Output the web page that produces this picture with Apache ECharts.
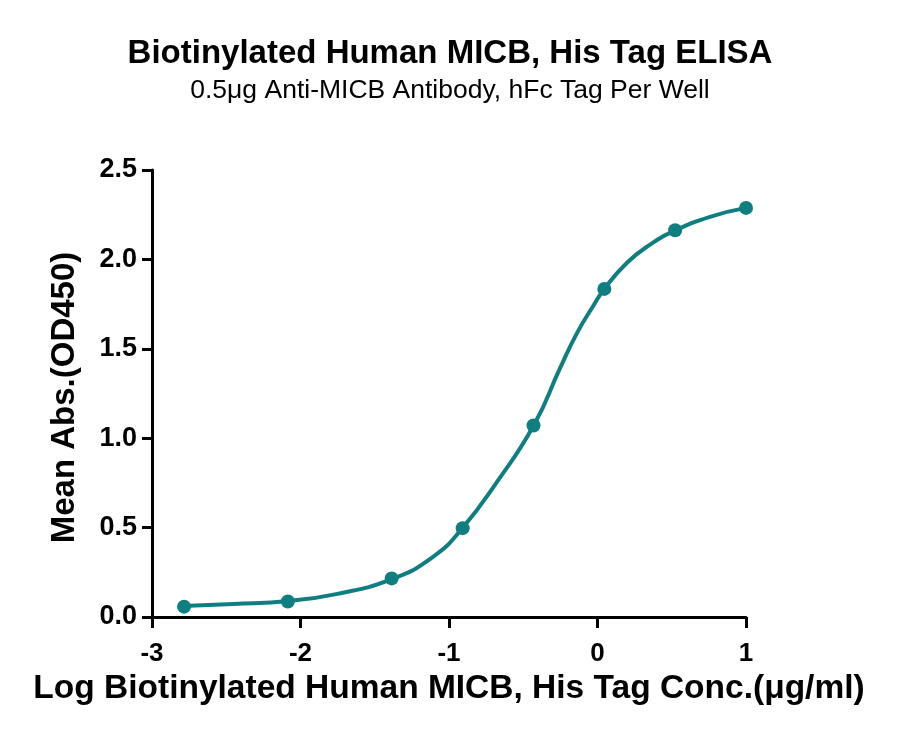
<!DOCTYPE html>
<html>
<head>
    <meta charset="utf-8">
    <title>ELISA</title>
    <script type="text/javascript" src="https://cdn.jsdelivr.net/npm/echarts@6/dist/echarts.min.js"></script>
    <style>
        html, body { margin: 0; padding: 0; background: #fff; }
    </style>
</head>
<body>
<div id="main" style="width: 900px;height:737px;"></div>
<script type="text/javascript">
    // measured points (log conc, OD450)
    var logConc = [-2.784, -2.085, -1.386, -0.908, -0.431, 0.046, 0.523, 1.0];
    var meanAbs = [0.058, 0.087, 0.216, 0.497, 1.071, 1.835, 2.163, 2.288];

    // fitted curve
    var curveX = [-2.79, -2.45, -2.08, -1.76, -1.39, -1.11, -0.91, -0.68, -0.43, -0.253, -0.14, -0.028, 0.046, 0.197, 0.354, 0.522, 0.758, 1.0];
    var curveY = [0.062, 0.073, 0.09, 0.128, 0.21, 0.335, 0.497, 0.752, 1.071, 1.39, 1.585, 1.741, 1.835, 1.98, 2.083, 2.161, 2.238, 2.288];

    var teal = '#0f7e80';
    var font = '"Liberation Sans", Arial, Helvetica, sans-serif';

    var myChart = echarts.init(document.getElementById('main'));

    var pts = logConc.map(function (x, i) { return [x, meanAbs[i]]; });
    var curve = curveX.map(function (x, i) { return [x, curveY[i]]; });

    var option = {
        animation: false,
        title: [{
            text: 'Biotinylated Human MICB, His Tag ELISA',
            left: 'center',
            top: 32,
            textStyle: { fontFamily: font, fontSize: 33, fontWeight: 'bold', color: '#000' }
        }, {
            text: '0.5μg Anti-MICB Antibody, hFc Tag Per Well',
            left: 'center',
            top: 72,
            textStyle: { fontFamily: font, fontSize: 26.5, fontWeight: 'normal', color: '#000' }
        }],
        grid: {
            left: 152,
            right: 154,
            top: 170,
            bottom: 120
        },
        xAxis: {
            type: 'value',
            min: -3,
            max: 1,
            interval: 1,
            name: 'Log Biotinylated Human MICB, His Tag Conc.(μg/ml)',
            nameLocation: 'middle',
            nameGap: 50,
            nameTextStyle: { fontFamily: font, fontSize: 33.5, fontWeight: 'bold', color: '#000' },
            axisLine: { onZero: false, lineStyle: { color: '#000', width: 3 } },
            axisTick: { length: 11, lineStyle: { color: '#000', width: 3 } },
            axisLabel: { margin: 24, fontFamily: font, fontSize: 26, fontWeight: 'bold', color: '#000' },
            splitLine: { show: false }
        },
        yAxis: {
            type: 'value',
            min: 0,
            max: 2.5,
            interval: 0.5,
            name: 'Mean Abs.(OD450)',
            nameLocation: 'middle',
            nameGap: 71,
            nameTextStyle: { fontFamily: font, fontSize: 33, fontWeight: 'bold', color: '#000', padding: [0, 8, 0, 0] },
            axisLine: { show: true, onZero: false, lineStyle: { color: '#000', width: 3 } },
            axisTick: { show: true, length: 10, lineStyle: { color: '#000', width: 3 } },
            axisLabel: {
                margin: 15,
                fontFamily: font, fontSize: 27, fontWeight: 'bold', color: '#000',
                formatter: function (v) { return v.toFixed(1); }
            },
            splitLine: { show: false }
        },
        series: [{
            type: 'line',
            data: curve,
            smooth: 0.5,
            showSymbol: false,
            lineStyle: { color: teal, width: 4 },
            z: 2
        }, {
            type: 'scatter',
            data: pts,
            symbol: 'circle',
            symbolSize: 14,
            itemStyle: { color: teal, opacity: 1 },
            z: 3
        }]
    };
    myChart.setOption(option);
</script>
</body>
</html>
